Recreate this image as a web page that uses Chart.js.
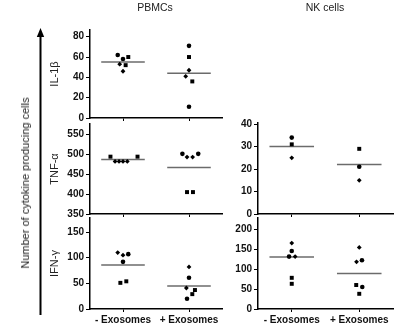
<!DOCTYPE html>
<html><head><meta charset="utf-8">
<script src="https://cdn.jsdelivr.net/npm/chart.js@4.4.1/dist/chart.umd.min.js"></script>
<style>
html,body{margin:0;padding:0;background:#fff;}
#wrap{position:relative;width:398px;height:327px;overflow:hidden;font-family:'Liberation Sans',Arial,sans-serif;}
canvas{position:absolute;left:0;top:0;}
.t{position:absolute;font-size:10.5px;color:#222;white-space:nowrap;transform:translate(-50%,-50%);}
</style></head><body>
<div id="wrap">
<canvas id="c1" width="398" height="327"></canvas>
<canvas id="c2" width="398" height="327"></canvas>
<canvas id="c3" width="398" height="327"></canvas>
<canvas id="c4" width="398" height="327"></canvas>
<canvas id="c5" width="398" height="327"></canvas>
<div class="t" style="left:155px;top:7px">PBMCs</div>
<div class="t" style="left:325px;top:7px">NK cells</div>
<div class="t" style="left:25px;top:183px;font-size:11px;transform:translate(-50%,-50%) rotate(-90deg)">Number of cytokine producing cells</div>
</div>
<script>
// ---- data ----
const groups = ['- Exosomes', '+ Exosomes'];

// PBMCs IL-1β
const pbmcIL1bMinus = [62, 60, 58, 53, 52, 46];
const pbmcIL1bMinusShape = ['c','s','c','d','s','d'];
const pbmcIL1bMinusJitter = [-0.08, 0.08, 0, -0.05, 0.04, 0];
const pbmcIL1bPlus = [71, 60, 47, 41, 36, 11];
const pbmcIL1bPlusShape = ['c','s','d','d','s','c'];
const pbmcIL1bPlusJitter = [0, 0, 0, -0.05, 0.05, 0];
const pbmcIL1bMedians = [55, 44];
const pbmcIL1bTicks = [0, 20, 40, 60, 80];

// PBMCs TNF-α
const pbmcTNFMinus = [494, 482, 482, 482, 482, 494];
const pbmcTNFMinusShape = ['s','d','d','d','d','s'];
const pbmcTNFMinusJitter = [-0.19, -0.12, -0.06, 0, 0.065, 0.22];
const pbmcTNFPlus = [501, 493, 493, 501, 405, 405];
const pbmcTNFPlusShape = ['c','d','d','c','s','s'];
const pbmcTNFPlusJitter = [-0.1, -0.03, 0.055, 0.14, -0.03, 0.06];
const pbmcTNFMedians = [487, 467];
const pbmcTNFTicks = [350, 400, 450, 500, 550];

// PBMCs IFN-γ
const pbmcIFNMinus = [110, 105, 107, 92, 51, 54];
const pbmcIFNMinusShape = ['d','d','c','c','s','s'];
const pbmcIFNMinusJitter = [-0.08, 0, 0.08, 0, -0.04, 0.05];
const pbmcIFNPlus = [82, 61, 41, 37, 29, 20];
const pbmcIFNPlusShape = ['d','c','d','s','s','c'];
const pbmcIFNPlusJitter = [0, 0, -0.04, 0.09, 0.05, -0.03];
const pbmcIFNMedians = [86, 45];
const pbmcIFNTicks = [0, 50, 100, 150];

// NK cells TNF-α
const nkTNFMinus = [34, 31, 25];
const nkTNFMinusShape = ['c','s','d'];
const nkTNFMinusJitter = [0, 0, 0];
const nkTNFPlus = [29, 21, 15];
const nkTNFPlusShape = ['s','c','d'];
const nkTNFPlusJitter = [0, 0, 0];
const nkTNFMedians = [30, 22];
const nkTNFTicks = [0, 10, 20, 30, 40];

// NK cells IFN-γ
const nkIFNMinus = [165, 145, 131, 131, 78, 63];
const nkIFNMinusShape = ['d','c','c','d','s','s'];
const nkIFNMinusJitter = [0, 0, -0.04, 0.05, 0, 0];
const nkIFNPlus = [154, 118, 122, 60, 55, 38];
const nkIFNPlusShape = ['d','d','c','s','c','s'];
const nkIFNPlusJitter = [0, -0.04, 0.04, -0.045, 0.045, 0];
const nkIFNMedians = [130, 89];
const nkIFNTicks = [0, 50, 100, 150, 200];

// ---- drawing ----
const FAMILY = "'Liberation Sans', Arial, sans-serif";
const STYLE = {c:'circle', s:'rect', d:'rectRot'};
const RADIUS = {c:2.3, s:2.8, d:2.4};

const arrowPlugin = {
  id:'arrow',
  afterDraw(chart){
    const ctx = chart.ctx;
    ctx.save();
    ctx.strokeStyle = '#000'; ctx.fillStyle = '#000'; ctx.lineWidth = 2;
    ctx.beginPath(); ctx.moveTo(40.5, 315); ctx.lineTo(40.5, 35); ctx.stroke();
    ctx.beginPath(); ctx.moveTo(40.5, 28); ctx.lineTo(36.8, 37); ctx.lineTo(44.2, 37); ctx.closePath(); ctx.fill();
    ctx.restore();
  }
};

function makePanel(id, cfg, plugins) {
  const datasets = [];
  [0, 1].forEach(g => {
    const vals = cfg.values[g], jit = cfg.jitter[g], shp = cfg.shapes[g];
    datasets.push({
      type: 'scatter',
      data: vals.map((v, i) => ({x: g + 1 + jit[i], y: v})),
      pointStyle: shp.map(s => STYLE[s]),
      pointRadius: shp.map(s => RADIUS[s]),
      pointBackgroundColor: '#000', pointBorderWidth: 0, pointBorderColor: '#000'
    });
    datasets.push({
      type: 'line',
      data: [{x: g + 1 - 0.33, y: cfg.medians[g]}, {x: g + 1 + 0.33, y: cfg.medians[g]}],
      borderColor: '#6b6b6b', borderWidth: 1.5, pointRadius: 0, fill: false
    });
  });
  new Chart(document.getElementById(id), {
    type: 'scatter',
    data: {datasets},
    plugins: plugins || [],
    options: {
      responsive: false, animation: false, events: [],
      layout: {padding: cfg.pad},
      plugins: {legend: {display: false}, tooltip: {enabled: false}},
      scales: {
        x: {
          type: 'linear', min: 0.5, max: 2.5,
          afterBuildTicks: s => { s.ticks = [{value: 1}, {value: 2}]; },
          afterFit: s => { s.height = cfg.xH; },
          ticks: {display: cfg.showX, callback: v => groups[Math.round(v) - 1], color: '#111',
                  font: {family: FAMILY, size: 10, weight: 'bold'}, padding: 2, maxRotation: 0, autoSkip: false},
          grid: {display: true, drawOnChartArea: false, drawTicks: true, tickLength: 3, color: '#000', lineWidth: 1},
          border: {display: true, color: '#000', width: 1.5}
        },
        y: {
          type: 'linear', min: cfg.min, max: cfg.max,
          afterBuildTicks: s => { s.ticks = cfg.ticks.map(v => ({value: v})); },
          afterFit: s => { s.width = cfg.yW; },
          ticks: {color: '#111', font: {family: FAMILY, size: 10, weight: 'bold'}, padding: 2},
          grid: {display: true, drawOnChartArea: false, drawTicks: true, tickLength: 4, color: '#000', lineWidth: 1},
          border: {display: true, color: '#000', width: 1.5},
          title: {display: !!cfg.title, text: cfg.title, color: '#222',
                  font: {family: FAMILY, size: 11}, padding: {top: 4, bottom: 0}}
        }
      }
    }
  });
}

// left column: chart area x 90..222 ; right column: 258..393
makePanel('c1', {
  values: [pbmcIL1bMinus, pbmcIL1bPlus], shapes: [pbmcIL1bMinusShape, pbmcIL1bPlusShape],
  jitter: [pbmcIL1bMinusJitter, pbmcIL1bPlusJitter], medians: pbmcIL1bMedians,
  min: 0, max: 86.6, ticks: pbmcIL1bTicks, title: 'IL-1β', yW: 46, xH: 5, showX: false,
  pad: {left: 44, right: 176, top: 30, bottom: 327 - 118 - 5}
}, [arrowPlugin]);

makePanel('c2', {
  values: [pbmcTNFMinus, pbmcTNFPlus], shapes: [pbmcTNFMinusShape, pbmcTNFPlusShape],
  jitter: [pbmcTNFMinusJitter, pbmcTNFPlusJitter], medians: pbmcTNFMedians,
  min: 350, max: 576, ticks: pbmcTNFTicks, title: 'TNF-α', yW: 46, xH: 5, showX: false,
  pad: {left: 44, right: 176, top: 124, bottom: 327 - 214 - 5}
});

makePanel('c3', {
  values: [pbmcIFNMinus, pbmcIFNPlus], shapes: [pbmcIFNMinusShape, pbmcIFNPlusShape],
  jitter: [pbmcIFNMinusJitter, pbmcIFNPlusJitter], medians: pbmcIFNMedians,
  min: 0, max: 177.5, ticks: pbmcIFNTicks, title: 'IFN-γ', yW: 46, xH: 18, showX: true,
  pad: {left: 44, right: 176, top: 218, bottom: 0}
});

makePanel('c4', {
  values: [nkTNFMinus, nkTNFPlus], shapes: [nkTNFMinusShape, nkTNFPlusShape],
  jitter: [nkTNFMinusJitter, nkTNFPlusJitter], medians: nkTNFMedians,
  min: 0, max: 40.5, ticks: nkTNFTicks, title: '', yW: 32, xH: 5, showX: false,
  pad: {left: 226, right: 5, top: 123, bottom: 327 - 214 - 5}
});

makePanel('c5', {
  values: [nkIFNMinus, nkIFNPlus], shapes: [nkIFNMinusShape, nkIFNPlusShape],
  jitter: [nkIFNMinusJitter, nkIFNPlusJitter], medians: nkIFNMedians,
  min: 0, max: 227.6, ticks: nkIFNTicks, title: '', yW: 32, xH: 18, showX: true,
  pad: {left: 226, right: 5, top: 218, bottom: 0}
});
</script>
</body></html>
